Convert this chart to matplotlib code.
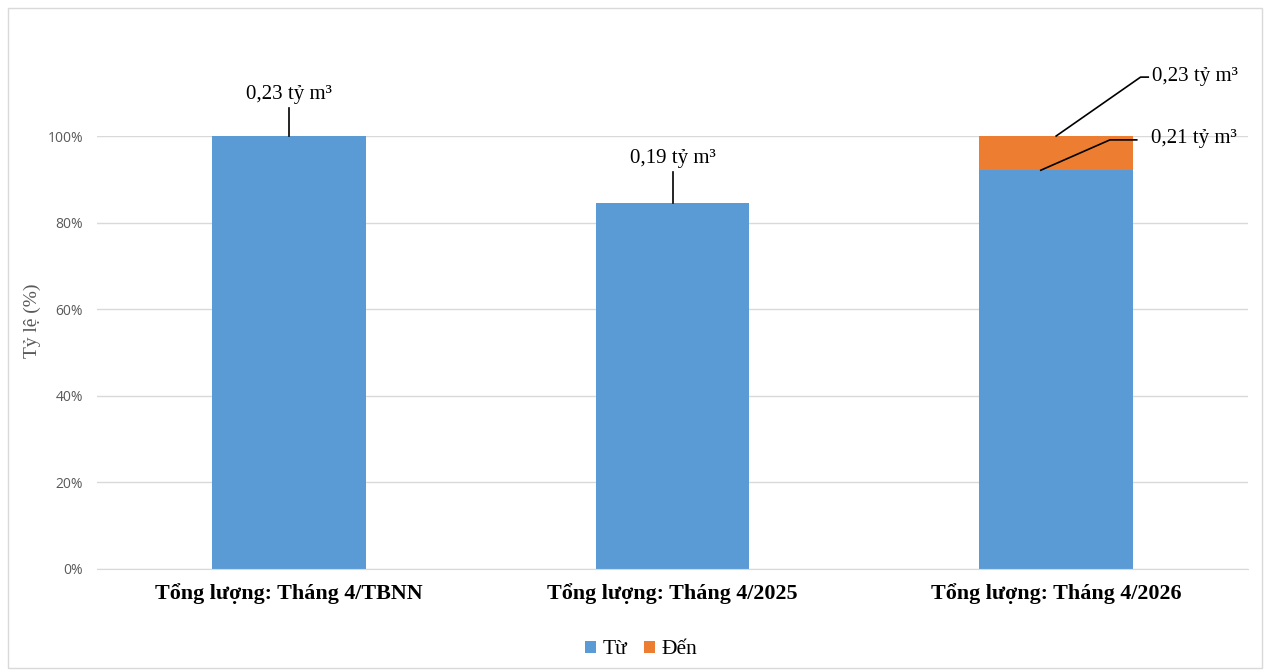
import numpy as np
import matplotlib.pyplot as plt
from matplotlib.patches import Rectangle

categories = ['Tổng lượng: Tháng 4/TBNN', 'Tổng lượng: Tháng 4/2025', 'Tổng lượng: Tháng 4/2026']
tu = [100.0, 84.6, 92.1]     # % phần "Từ"
den = [0.0, 0.0, 7.9]        # % phần "Đến"
yticks = [0, 20, 40, 60, 80, 100]

blue = '#5b9bd5'
orange = '#ed7d31'
serif = ['Liberation Serif', 'DejaVu Serif']

fig = plt.figure(figsize=(12.7, 6.71), dpi=100)
ax = fig.add_axes([97/1270, 1-569/671, 1151/1270, 433/671])
x = np.arange(len(categories))
ax.bar(x, tu, width=0.4, color=blue, label='Từ', zorder=2)
ax.bar(x, den, width=0.4, bottom=tu, color=orange, label='Đến', zorder=2)

ax.set_xlim(-0.5, 2.5)
ax.set_ylim(0, 100)
ax.set_yticks(yticks)
ax.set_yticklabels([f'{v}%' for v in yticks], color='#595959', fontsize=10, family='Open Sans')
ax.tick_params(axis='y', length=0, pad=10)
ax.tick_params(axis='x', length=0, pad=10)
ax.set_xticks(x)
ax.set_xticklabels(categories, fontsize=15.8, fontweight='bold', family=serif)
ax.grid(axis='y', color='#d9d9d9', linewidth=1, zorder=0)
for s in ['top', 'right', 'left']:
    ax.spines[s].set_visible(False)
ax.spines['bottom'].set_color('#d9d9d9')
ax.set_ylabel('Tỷ lệ (%)', fontsize=14, color='#595959', family=serif)
ax.yaxis.set_label_coords(-56/1151, (569-321)/433)

# nhãn dữ liệu
lbl = dict(fontsize=15, family=serif, color='#000000', clip_on=False)
ax.plot([0, 0], [100, 106.5], color='black', lw=1.2, clip_on=False)
ax.text(0, 107.3, '0,23 tỷ m³', ha='center', va='bottom', **lbl)
ax.plot([1, 1], [tu[1], 91.7], color='black', lw=1.2, clip_on=False)
ax.text(1, 92.5, '0,19 tỷ m³', ha='center', va='bottom', **lbl)
ax.plot([2.0, 2.22, 2.24], [100, 113.6, 113.6], color='black', lw=1.2, clip_on=False)
ax.text(2.25, 113.8, '0,23 tỷ m³', ha='left', va='center', **lbl)
ax.plot([1.96, 2.14, 2.21], [tu[2], 99.1, 99.1], color='black', lw=1.2, clip_on=False)
ax.text(2.247, 99.5, '0,21 tỷ m³', ha='left', va='center', **lbl)

leg = fig.legend(loc='center', bbox_to_anchor=(0.505, 1-650/671), ncol=2, frameon=False,
                 prop={'family': serif, 'size': 15.5}, handlelength=0.5, handleheight=0.5,
                 handletextpad=0.3, columnspacing=0.8)

fig.patches.append(Rectangle((8/1270, 3/671), 1254/1270, 660/671, transform=fig.transFigure,
                             fill=False, edgecolor='#d9d9d9', lw=1))
fig.savefig('out.png', dpi=100)
